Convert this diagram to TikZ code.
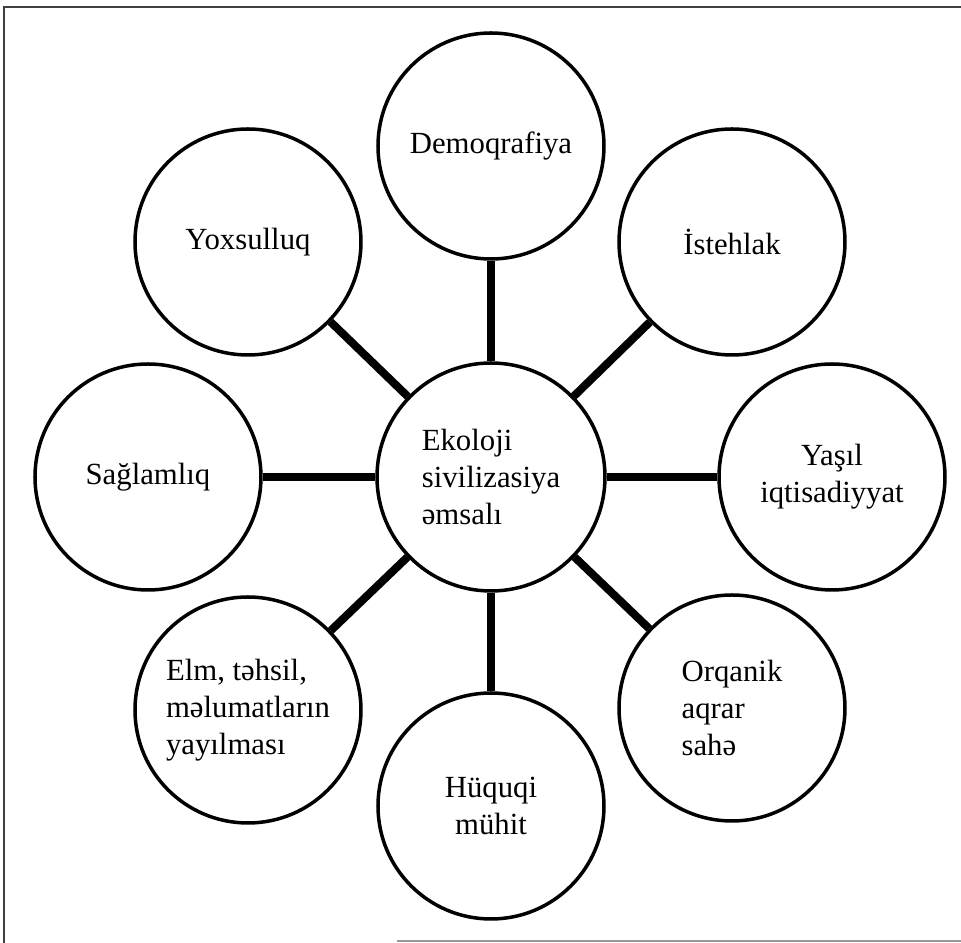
\documentclass[tikz,border=0pt]{standalone}
\usepackage{fontspec}
\setmainfont{Liberation Serif}

\begin{document}
\begin{tikzpicture}[
  font=\fontsize{17.5}{21}\selectfont,
  daire/.style={circle, draw=black, line width=0.07cm, minimum size=4.52cm, inner sep=0pt},
  merkez/.style={daire, minimum size=4.56cm},
  bag/.style={draw=black, line width=0.16cm},
  cerceve/.style={draw=black!75, line width=0.05cm}
]

\useasboundingbox (-9.82,-9.32) rectangle (9.40,9.54);

%--------------------------------------------------------------
% Cercive (yuxari, sol, asagi)
%--------------------------------------------------------------
\draw[cerceve] (-9.74,-9.32) -- (-9.74,9.40) -- (9.40,9.40);
\draw[draw=black!40, line width=0.04cm] (-1.88,-9.28) -- (9.40,-9.28);

%--------------------------------------------------------------
% Merkez dairesi
%--------------------------------------------------------------
\node[merkez, align=left] (ekoloji) at (0,0) {Ekoloji\\sivilizasiya\\əmsalı};

%--------------------------------------------------------------
% Xarici daireler ve baglar
%--------------------------------------------------------------
\foreach \nm/\x/\y/\al/\txt in {demo/0/6.62/center/Demoqrafiya,
                                istehlak/4.82/4.70/center/İstehlak,
                                yasil/6.82/0/center/{Yaşıl\\iqtisadiyyat},
                                orqanik/4.82/-4.62/left/{Orqanik\\aqrar\\sahə},
                                huquq/0/-6.58/center/{Hüquqi\\mühit},
                                elm/-4.86/-4.66/left/{Elm, təhsil,\\məlumatların\\yayılması},
                                saglam/-6.86/0/center/Sağlamlıq,
                                yoxsul/-4.86/4.70/center/Yoxsulluq} {
  \node[daire, align=\al] (\nm) at (\x,\y) {\txt};
  \draw[bag] (ekoloji) -- (\nm);
}

\end{tikzpicture}
\end{document}
